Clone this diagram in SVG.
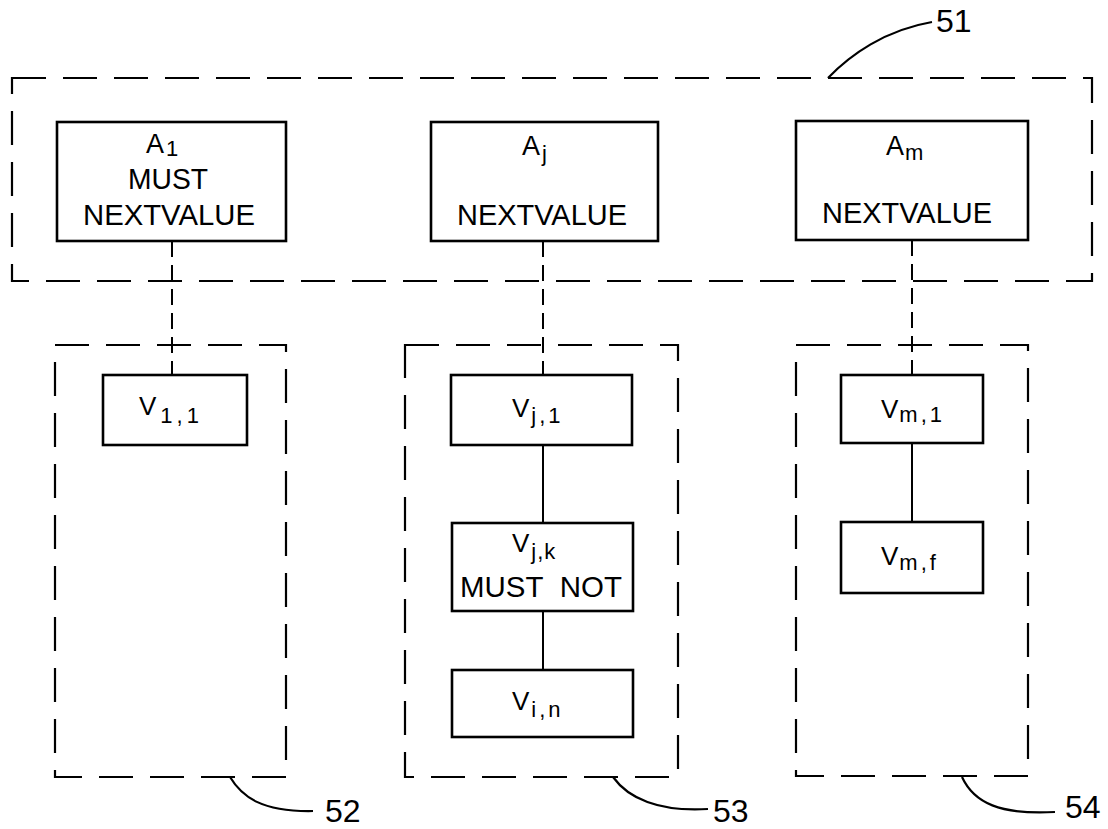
<svg xmlns="http://www.w3.org/2000/svg" width="1108" height="829" viewBox="0 0 1108 829">
<style>
.grp{fill:none;stroke:#000;stroke-width:2.2;stroke-dasharray:34 17}
.box{fill:#fff;stroke:#000;stroke-width:2.6}
.dc{fill:none;stroke:#000;stroke-width:2;stroke-dasharray:16 8}
.sc{fill:none;stroke:#000;stroke-width:2}
.ld{fill:none;stroke:#000;stroke-width:2.2}
text{font-family:"Liberation Sans",Arial,sans-serif;fill:#000}
.t{font-size:29px}
.a{font-size:27px}
.s{font-size:22px}
.v{font-size:26px}
.lbl{font-size:32px}
</style>
<rect width="1108" height="829" fill="#fff"/>
<g id="groups">
<rect id="g51" class="grp" x="12" y="78" width="1080" height="203"/>
<rect id="g52" class="grp" x="55" y="345" width="231" height="432"/>
<rect id="g53" class="grp" x="405" y="345" width="273" height="432"/>
<rect id="g54" class="grp" x="796" y="345" width="232" height="431"/>
</g>
<g id="connectors">
<line class="dc" x1="172" y1="241" x2="172" y2="375"/>
<line class="dc" x1="543" y1="241" x2="543" y2="375"/>
<line class="dc" x1="912" y1="240" x2="912" y2="375"/>
<line class="sc" x1="543" y1="445" x2="543" y2="523"/>
<line class="sc" x1="543" y1="611" x2="543" y2="670"/>
<line class="sc" x1="912" y1="443" x2="912" y2="522"/>
<path class="ld" d="M828,78 C850,55 885,30 932,22"/>
<path class="ld" d="M230,777 C242,797 262,812 313,811"/>
<path class="ld" d="M613,777 C628,798 658,812 708,809"/>
<path class="ld" d="M962,777 C974,803 1000,815 1055,812"/>
</g>
<g id="nA1">
<rect class="box" x="57" y="122" width="229" height="119"/>
<text class="a" x="146" y="153">A<tspan class="s" dy="3" dx="2">1</tspan></text>
<text class="t" x="168" y="189" text-anchor="middle" textLength="80" lengthAdjust="spacingAndGlyphs">MUST</text>
<text class="t" x="83" y="225" textLength="172" lengthAdjust="spacingAndGlyphs">NEXTVALUE</text>
</g>
<g id="nAj">
<rect class="box" x="431" y="122" width="227" height="119"/>
<text class="a" x="522" y="155">A<tspan class="s" dy="6" dx="2">j</tspan></text>
<text class="t" x="457" y="225" textLength="170" lengthAdjust="spacingAndGlyphs">NEXTVALUE</text>
</g>
<g id="nAm">
<rect class="box" x="796" y="121" width="232" height="119"/>
<text class="a" x="886" y="155">A<tspan class="s" dy="5" dx="1" font-size="26">m</tspan></text>
<text class="t" x="822" y="223" textLength="170" lengthAdjust="spacingAndGlyphs">NEXTVALUE</text>
</g>
<g id="n51">
<text class="lbl" x="936" y="32">51</text>
</g>
<g id="n52">
<text class="lbl" x="325" y="822">52</text>
</g>
<g id="n53">
<text class="lbl" x="713" y="822">53</text>
</g>
<g id="n54">
<text class="lbl" x="1065" y="818">54</text>
</g>
<g id="nV11">
<rect class="box" x="103" y="375" width="144" height="70"/>
<text class="v" x="139" y="415">V<tspan class="s" dy="8" dx="4" letter-spacing="4">1,1</tspan></text>
</g>
<g id="nVj1">
<rect class="box" x="451" y="375" width="181" height="70"/>
<text class="v" x="512" y="417">V<tspan class="s" dy="6" dx="2" letter-spacing="3">j,1</tspan></text>
</g>
<g id="nVjk">
<rect class="box" x="452" y="523" width="181" height="88"/>
<text class="v" x="512" y="552">V<tspan class="s" dy="7" dx="2" letter-spacing="1">j,k</tspan></text>
<text class="t" x="460" y="597" textLength="162" lengthAdjust="spacingAndGlyphs" font-size="27">MUST&#160;&#160;NOT</text>
</g>
<g id="nVin">
<rect class="box" x="452" y="670" width="181" height="67"/>
<text class="v" x="512" y="710">V<tspan class="s" dy="7" dx="2" letter-spacing="3">i,n</tspan></text>
</g>
<g id="nVm1">
<rect class="box" x="841" y="375" width="142" height="68"/>
<text class="v" x="881" y="418">V<tspan class="s" dy="4" dx="1" letter-spacing="3">m,1</tspan></text>
</g>
<g id="nVmf">
<rect class="box" x="841" y="522" width="142" height="71"/>
<text class="v" x="881" y="565">V<tspan class="s" dy="5" dx="1" letter-spacing="3">m,f</tspan></text>
</g>
</svg>
